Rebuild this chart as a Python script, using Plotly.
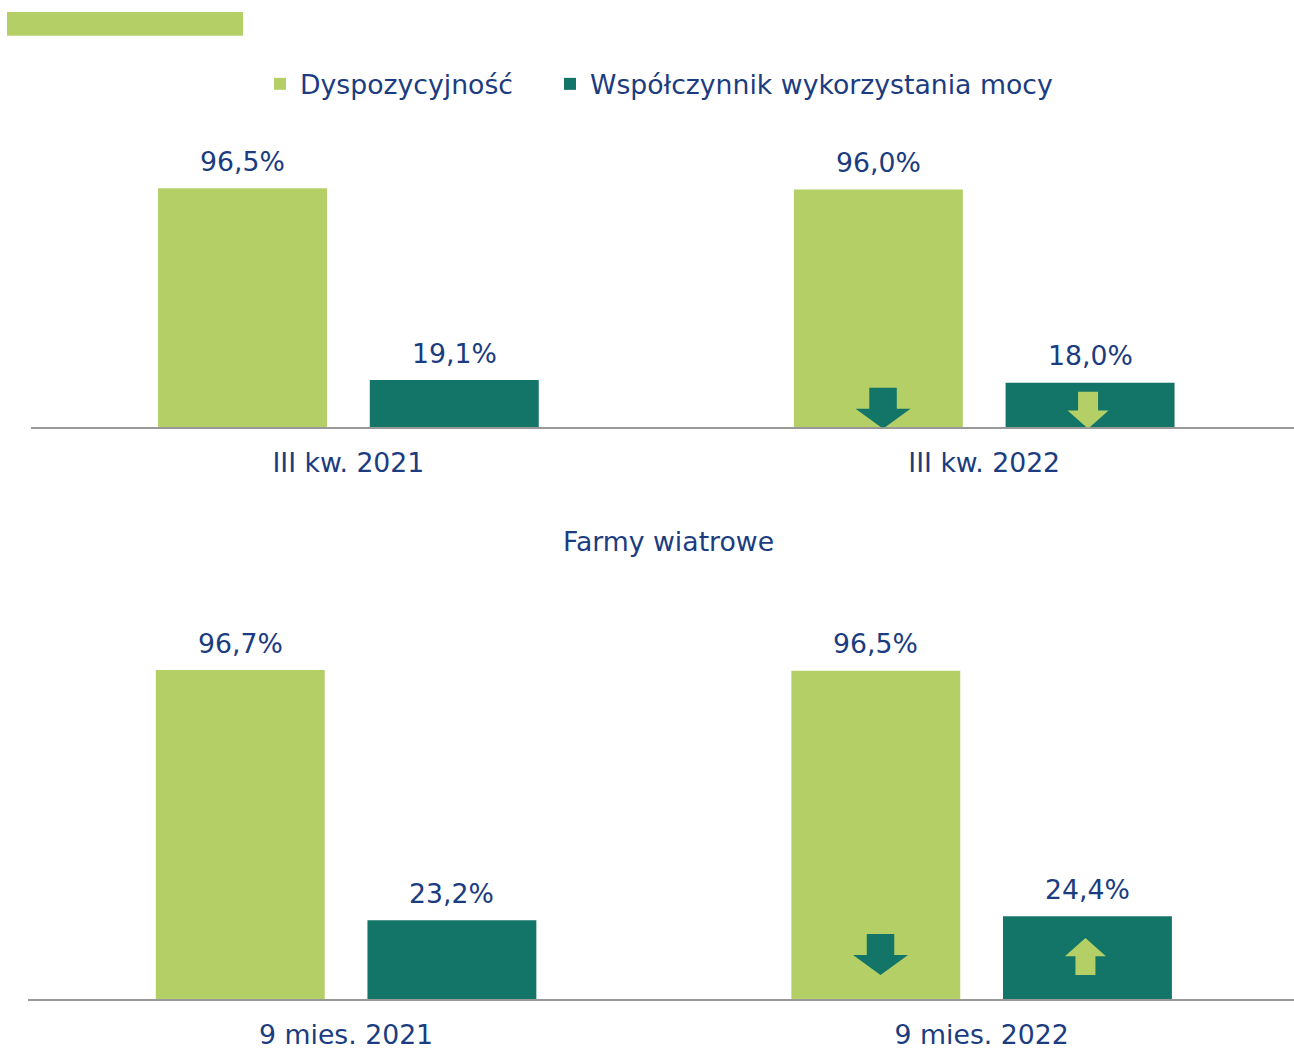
import plotly.graph_objects as go

# ---------------- data ----------------
series_names = ["Dyspozycyjność", "Współczynnik wykorzystania mocy"]
categories_top = ["III kw. 2021", "III kw. 2022"]
dysp_top = [96.5, 96.0]
wsp_top = [19.1, 18.0]
categories_bottom = ["9 mies. 2021", "9 mies. 2022"]
dysp_bottom = [96.7, 96.5]
wsp_bottom = [23.2, 24.4]
section_title = "Farmy wiatrowe"

# ---------------- style ----------------
W, H = 1294, 1050
LIGHT = "#B3CF66"
DARK = "#127567"
NAVY = "#1B3C80"
AXIS = "#999999"
FONT = "Verdana, DejaVu Sans, sans-serif"
FS = 26.7
BARGAP = 0.334
GROUPGAP = 0.202
HALF_SLOT = (1 - BARGAP) / 4.0  # offset of bar centre from category centre

fig = go.Figure()

panels = [
    dict(cats=categories_top, vals=[dysp_top, wsp_top], xa="x", ya="y",
         base=-1.4, showlegend=True),
    dict(cats=categories_bottom, vals=[dysp_bottom, wsp_bottom], xa="x2", ya="y2",
         base=24.3, showlegend=False),
]
colors = [LIGHT, DARK]
legends = ["legend", "legend2"]
arrow_style = [
    dict(color=DARK, w=55, s=27.5, h=20, L=21, dx=4.7),
    dict(color=LIGHT, w=41, s=20, h=18.3, L=18.7, dx=-2.0),
]

annotations = []
shapes = []

for p in panels:
    xs = list(range(len(p["cats"])))
    for si, vals in enumerate(p["vals"]):
        fig.add_trace(go.Bar(
            x=xs, y=vals, name=series_names[si], marker_color=colors[si],
            marker_line_width=0, xaxis=p["xa"], yaxis=p["ya"],
            showlegend=p["showlegend"], legend=legends[si],
            hoverinfo="skip",
        ))
        off = (-1 if si == 0 else 1) * HALF_SLOT
        for i, v in enumerate(vals):
            annotations.append(dict(
                x=i + off, y=v, xref=p["xa"], yref=p["ya"],
                text=f"{v:.1f}%".replace(".", ","), showarrow=False,
                yanchor="bottom", xanchor="center", yshift=9.5,
                font=dict(family=FONT, size=FS, color=NAVY),
            ))
        # change arrow for the latest period, direction derived from the data
        prev, cur = vals[-2], vals[-1]
        st = arrow_style[si]
        b = p["base"]
        w2, s2 = st["w"] / 2, st["s"] / 2
        if cur < prev:
            pts = [(0, b), (-w2, b + st["h"]), (-s2, b + st["h"]),
                   (-s2, b + st["h"] + st["L"]), (s2, b + st["h"] + st["L"]),
                   (s2, b + st["h"]), (w2, b + st["h"])]
        else:
            pts = [(-s2, b), (-s2, b + st["L"]), (-w2, b + st["L"]),
                   (0, b + st["L"] + st["h"]), (w2, b + st["L"]),
                   (s2, b + st["L"]), (s2, b)]
        pts = [(x + st["dx"], y) for x, y in pts]
        path = "M" + " L".join(f"{x:.2f},{y:.2f}" for x, y in pts) + " Z"
        shapes.append(dict(
            type="path", path=path, xref=p["xa"], yref=p["ya"],
            xsizemode="pixel", ysizemode="pixel",
            xanchor=len(vals) - 1 + off, yanchor=0,
            fillcolor=st["color"], line=dict(width=0), layer="above",
        ))

# decorative bar at top-left
shapes.append(dict(type="rect", xref="paper", yref="paper",
                   x0=7 / W, x1=243 / W, y0=1 - 35.7 / H, y1=1 - 12 / H,
                   fillcolor=LIGHT, line=dict(width=0), layer="above"))

annotations.append(dict(
    text=section_title, x=668.3 / W, y=1 - 541 / H, xref="paper", yref="paper",
    showarrow=False, xanchor="center", yanchor="middle",
    font=dict(family=FONT, size=FS, color=NAVY),
))


def xaxis(cats, left, cat_px, anchor):
    return dict(
        domain=[left / W, 1], tickmode="array", tickvals=list(range(len(cats))),
        ticktext=cats, range=[-0.5, -0.5 + (W - left) / cat_px],
        showline=True, linecolor=AXIS, linewidth=1.6, showgrid=False, zeroline=False,
        ticks="", ticklabelstandoff=11,
        tickfont=dict(family=FONT, size=FS, color=NAVY),
        fixedrange=True, anchor=anchor,
    )


def yaxis(base, px_per_unit, anchor):
    top = base - 100 * px_per_unit
    return dict(
        domain=[1 - base / H, 1 - top / H], range=[0, 100],
        visible=False, showgrid=False, zeroline=False, anchor=anchor, fixedrange=True,
    )


legend_common = dict(orientation="h", y=1 - 84 / H, xanchor="left", yanchor="middle",
                     itemclick=False, itemdoubleclick=False,
                     font=dict(family=FONT, size=FS, color=NAVY),
                     bgcolor="rgba(0,0,0,0)")

fig.update_layout(
    width=W, height=H,
    margin=dict(l=0, r=0, t=0, b=0),
    paper_bgcolor="white", plot_bgcolor="white",
    barmode="group", bargap=BARGAP, bargroupgap=GROUPGAP,
    font=dict(family=FONT, size=FS, color=NAVY),
    xaxis=xaxis(categories_top, 30.5, 635.8, "y"),
    yaxis=yaxis(427.3, 2.4767, "x"),
    xaxis2=xaxis(categories_bottom, 28.3, 635.55, "y2"),
    yaxis2=yaxis(999.3, 3.4054, "x2"),
    legend=dict(legend_common, x=(300 - 40) / W),
    legend2=dict(legend_common, x=(590 - 40) / W),
    shapes=shapes,
    annotations=annotations,
)

fig.write_html(
    "out.html",
    config={"displayModeBar": False, "staticPlot": False},
    post_script="document.body.style.margin='0';document.body.style.overflow='hidden';",
)
